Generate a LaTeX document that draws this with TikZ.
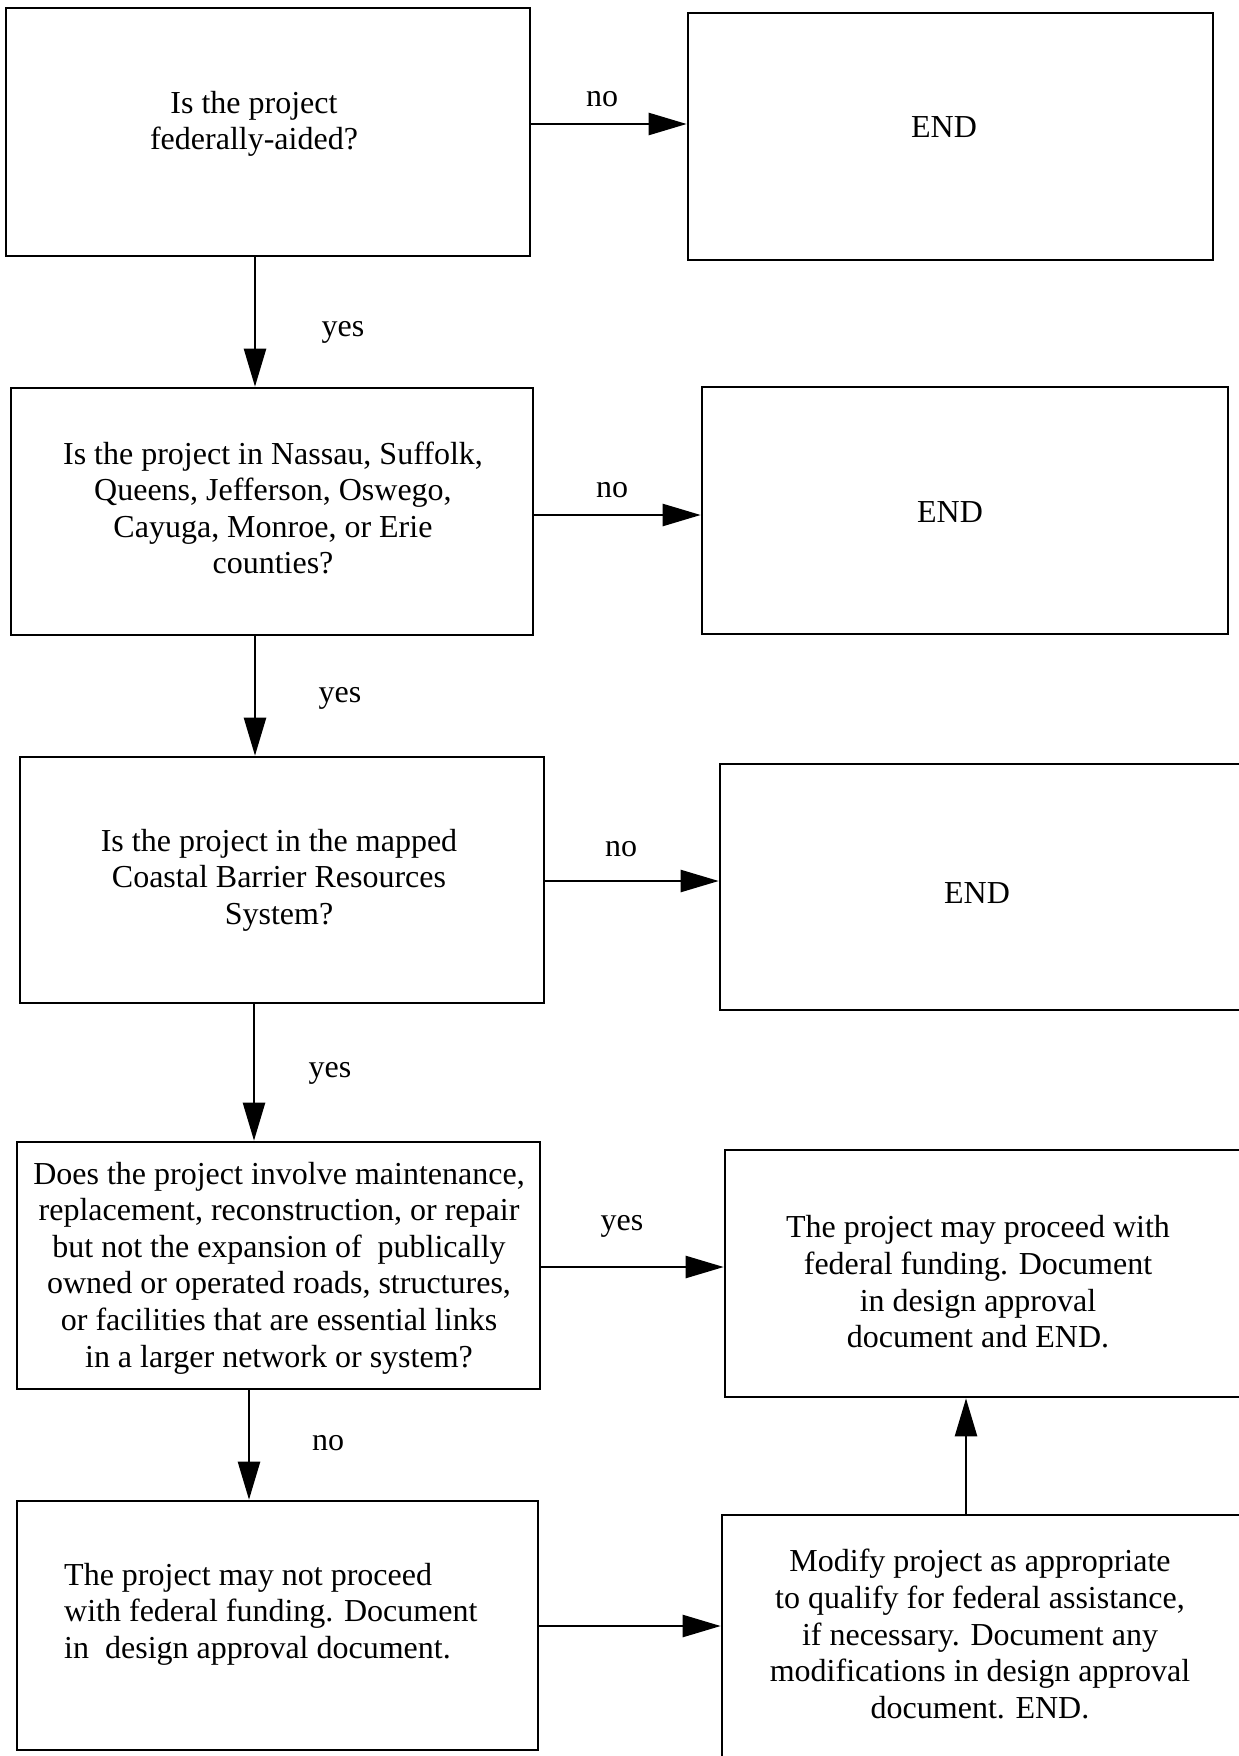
\documentclass[tikz,border=0pt]{standalone}
\usepackage{fontspec}
\setmainfont{Liberation Serif}
\usetikzlibrary{arrows.meta,fit}
\begin{document}
\begin{tikzpicture}[x=1pt,y=-1pt,
  box/.style={draw=black,line width=2.6pt,inner sep=0pt,rectangle},
  txt/.style={align=center,font=\fontsize{32}{36.6}\selectfont,inner sep=0pt},
  lbl/.style={font=\fontsize{32}{36.6}\selectfont,inner sep=0pt},
  arr/.style={line width=2.4pt,-{Triangle[length=38pt,width=22pt]}}]
\useasboundingbox (0,0) rectangle (1239,1756);
\clip (0,0) rectangle (1239,1756);
\fill[white] (0,0) rectangle (1239,1756);

% boxes
\node[box,fit={(6,8) (530,256)}] (b1) {};
\node[box,fit={(688,13) (1213,260)}] (e1) {};
\node[box,fit={(11,388) (533,635)}] (b2) {};
\node[box,fit={(702,387) (1228,634)}] (e2) {};
\node[box,fit={(20,757) (544,1003)}] (b3) {};
\node[box,fit={(720,764) (1250,1010)}] (e3) {};
\node[box,fit={(17,1142) (540,1389)}] (b4) {};
\node[box,fit={(725,1150) (1250,1397)}] (b5) {};
\node[box,fit={(17,1501) (538,1750)}] (b6) {};
\node[box,fit={(722,1515) (1250,1770)}] (b7) {};

% texts
\node[txt] (t1) at (254,124) {Is the project\\federally-aided?};
\node[txt] (te1) at (944,127) {END};
\node[txt] (t2) at (273,508) {Is the project in Nassau, Suffolk,\\Queens, Jefferson, Oswego,\\Cayuga, Monroe, or Erie\\counties?};
\node[txt] (te2) at (950,512) {END};
\node[txt] (t3) at (279,880) {Is the project in the mapped\\Coastal Barrier Resources\\System?};
\node[txt] (te3) at (977,893) {END};
\node[txt] (t4) at (279,1268) {Does the project involve maintenance,\\replacement, reconstruction, or repair\\but not the expansion of~ publically\\owned or operated roads, structures,\\or facilities that are essential links\\in a larger network or system?};
\node[txt] (t5) at (978,1282) {The project may proceed with\\federal funding. Document\\in design approval\\document and END.};
\node[txt,align=left,anchor=west] (t6) at (64,1614) {The project may not proceed\\with federal funding. Document\\in~ design approval document.};
\node[txt] (t7) at (980,1634) {Modify project as appropriate\\to qualify for federal assistance,\\if necessary. Document any\\modifications in design approval\\document. END.};

% connector levels
\coordinate (y1) at (0,124);
\coordinate (y2) at (0,515);
\coordinate (y3) at (0,881);
\coordinate (y4) at (0,1267);
\coordinate (y5) at (0,1626);
\coordinate (xa) at (255,0);
\coordinate (xb) at (254,0);
\coordinate (xc) at (249,0);
\coordinate (xd) at (966,0);

% connectors
\draw[arr] (b1.east |- y1) -- (e1.west |- y1);
\draw[arr] (xa |- b1.south) -- (xa |- b2.north);
\draw[arr] (b2.east |- y2) -- (e2.west |- y2);
\draw[arr] (xa |- b2.south) -- (xa |- b3.north);
\draw[arr] (b3.east |- y3) -- (e3.west |- y3);
\draw[arr] (xb |- b3.south) -- (xb |- b4.north);
\draw[arr] (b4.east |- y4) -- (b5.west |- y4);
\draw[arr] (xc |- b4.south) -- (xc |- b6.north);
\draw[arr] (b6.east |- y5) -- (b7.west |- y5);
\draw[arr] (xd |- b7.north) -- (xd |- b5.south);

% connector labels
\node[lbl] (l1) at (602,99) {no};
\node[lbl] (l2) at (343,332) {yes};
\node[lbl] (l3) at (612,490) {no};
\node[lbl] (l4) at (340,698) {yes};
\node[lbl] (l5) at (621,849) {no};
\node[lbl] (l6) at (330,1073) {yes};
\node[lbl] (l7) at (622,1226) {yes};
\node[lbl] (l8) at (328,1443) {no};
\end{tikzpicture}
\end{document}
